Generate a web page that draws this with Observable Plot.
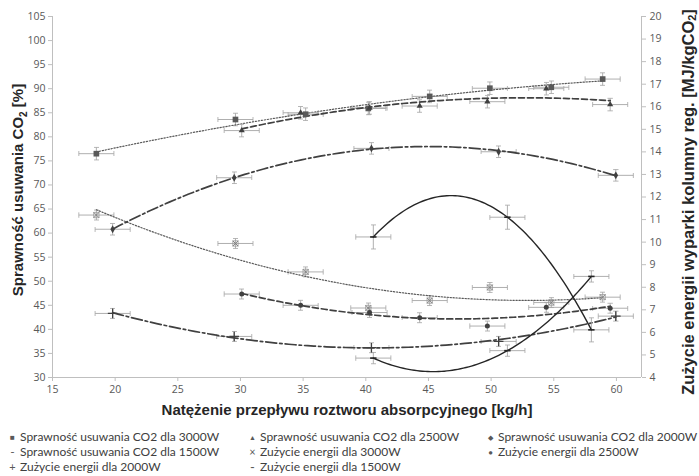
<!DOCTYPE html>
<html>
<head>
<meta charset="utf-8">
<script src="https://cdn.jsdelivr.net/npm/d3@7"></script>
<script src="https://cdn.jsdelivr.net/npm/@observablehq/plot@0.6"></script>
<style>
  body { margin: 0; background: #fff; }
  #chart { position: relative; width: 699px; height: 425px; }
  #chart svg { display: block; }
  #legend { position: relative; width: 699px; height: 51px; font-family: Lato, "Open Sans", sans-serif; font-size: 12px; color: #404040; }
  #legend .item { position: absolute; white-space: nowrap; line-height: 14px; height: 14px; }
  #legend .m { display: inline-block; width: 9px; text-align: center; margin-right: 3px; color: #595959; line-height: 14px; vertical-align: top; }
</style>
</head>
<body>
<div id="chart"></div>
<div id="legend"></div>
<script>
// ---- data (x: flow kg/h, eff: CO2 removal %, energy: MJ/kgCO2) ----
const flow3000 = [18.5, 29.6, 35.2, 40.2, 45.1, 49.9, 54.8, 58.9];
const eff3000 = [76.5, 83.6, 84.7, 85.9, 88.4, 90.1, 90.3, 92.0];
const energy3000 = [11.2, 9.94, 8.68, 7.08, 7.41, 7.99, 7.32, 7.56];

const flow2500 = [30.1, 34.8, 40.3, 44.3, 49.7, 54.4, 59.5];
const eff2500 = [81.3, 85.0, 86.0, 86.4, 87.3, 90.0, 86.7];
const energy2500 = [7.70, 7.20, 6.88, 6.65, 6.28, 7.11, 7.07];

const flow2000 = [19.8, 29.5, 40.45, 50.6, 59.95];
const eff2000 = [60.8, 71.5, 77.6, 76.9, 72.0];
const energy2000 = [6.84, 5.82, 5.32, 5.60, 6.72];

const flow1500 = [40.6, 51.3, 58.0];
const eff1500 = [59.2, 63.3, 39.9];
const energy1500 = [4.86, 5.19, 8.48];

const flowErr = 1.4;      // horizontal error (kg/h)
const effErr = [1.3, 1.3, 1.2, 2.5];        // per series 3000,2500,2000,1500 (%)
const energyErr = [0.22, 0.22, 0.22, 0.25]; // MJ/kgCO2

const xTicks = [15, 20, 25, 30, 35, 40, 45, 50, 55, 60];
const yTicks = [30, 35, 40, 45, 50, 55, 60, 65, 70, 75, 80, 85, 90, 95, 100, 105];
const y2Ticks = [4, 5, 6, 7, 8, 9, 10, 11, 12, 13, 14, 15, 16, 17, 18, 19, 20];

const legendLabels = [
  "Sprawność usuwania CO2 dla 3000W", "Sprawność usuwania CO2 dla 2500W", "Sprawność usuwania CO2 dla 2000W",
  "Sprawność usuwania CO2 dla 1500W", "Zużycie energii dla 3000W", "Zużycie energii dla 2500W",
  "Zużycie energii dla 2000W", "Zużycie energii dla 1500W"
];

// right axis (energy) mapped onto left axis (efficiency) units
const toLeft = e => 30 + (e - 4) * 75 / 16;
const fromLeft = v => 4 + (v - 30) * 16 / 75;

function quadFit(xs, ys) {
  let n = xs.length, s1=0,s2=0,s3=0,s4=0,t0=0,t1=0,t2=0;
  for (let i = 0; i < n; i++) {
    const x = xs[i], y = ys[i];
    s1+=x; s2+=x*x; s3+=x*x*x; s4+=x*x*x*x; t0+=y; t1+=x*y; t2+=x*x*y;
  }
  const M = [[n,s1,s2],[s1,s2,s3],[s2,s3,s4]], B=[t0,t1,t2];
  const det = m => m[0][0]*(m[1][1]*m[2][2]-m[1][2]*m[2][1]) - m[0][1]*(m[1][0]*m[2][2]-m[1][2]*m[2][0]) + m[0][2]*(m[1][0]*m[2][1]-m[1][1]*m[2][0]);
  const D = det(M);
  const c = [0,1,2].map(k => det(M.map((row,i) => row.map((v,j) => j===k ? B[i] : v))) / D);
  return x => c[0] + c[1]*x + c[2]*x*x;
}
function curve(xs, ys) {
  const f = quadFit(xs, ys);
  const x0 = d3.min(xs), x1 = d3.max(xs);
  return d3.range(81).map(i => { const x = x0 + (x1 - x0) * i / 80; return {x, y: f(x)}; });
}

const series = [
  {flow: flow3000, eff: eff3000, energy: energy3000, dash: "1.3,1.7", width: 1.2, color: "#595959"},
  {flow: flow2500, eff: eff2500, energy: energy2500, dash: "6,3", width: 1.7, color: "#404040"},
  {flow: flow2000, eff: eff2000, energy: energy2000, dash: "11,3,2.5,3", width: 1.7, color: "#404040"},
  {flow: flow1500, eff: eff1500, energy: energy1500, dash: null, width: 1.4, color: "#262626"}
];

const dashSymbol = { draw(ctx, size) { const w = Math.sqrt(size) * 0.6; ctx.moveTo(-w, 0); ctx.lineTo(w, 0); } };

const marks = [];
const errColor = "#a6a6a6";
series.forEach((s, k) => {
  const effRows = s.flow.map((x, i) => ({x, y: s.eff[i], ey: effErr[k]}));
  const enRows = s.flow.map((x, i) => ({x, y: toLeft(s.energy[i]), ey: energyErr[k] * 75 / 16}));
  for (const rows of [effRows, enRows]) {
    marks.push(Plot.link(rows, {x1: d => d.x - flowErr, x2: d => d.x + flowErr, y1: "y", y2: "y", stroke: errColor, strokeWidth: 0.9, markerStart: "tick", markerEnd: "tick"}));
    marks.push(Plot.link(rows, {x1: "x", x2: "x", y1: d => d.y - d.ey, y2: d => d.y + d.ey, stroke: errColor, strokeWidth: 0.9, markerStart: "tick", markerEnd: "tick"}));
  }
  const lineOpts = {x: "x", y: "y", stroke: s.color, strokeWidth: s.width, curve: "linear"};
  if (s.dash) lineOpts.strokeDasharray = s.dash;
  marks.push(Plot.line(curve(s.flow, s.eff), lineOpts));
  marks.push(Plot.line(curve(s.flow, s.energy.map(toLeft)), lineOpts));
  s.effRows = effRows; s.enRows = enRows;
});

// markers
marks.push(Plot.dot(series[0].effRows, {x: "x", y: "y", symbol: "square", r: 3.2, fill: "#595959"}));
marks.push(Plot.dot(series[1].effRows, {x: "x", y: "y", symbol: "triangle", r: 2.3, fill: "#404040"}));
marks.push(Plot.dot(series[2].effRows, {x: "x", y: "y", symbol: "diamond", r: 2.4, fill: "#404040"}));
marks.push(Plot.dot(series[3].effRows, {x: "x", y: "y", symbol: dashSymbol, r: 3, stroke: "#262626", strokeWidth: 1.6}));
marks.push(Plot.dot(series[0].enRows, {x: "x", y: "y", symbol: "square", r: 3, stroke: "#9a9a9a", fill: "none", strokeWidth: 0.8}));
marks.push(Plot.dot(series[0].enRows, {x: "x", y: "y", symbol: "times", r: 2.6, stroke: "#808080", strokeWidth: 1}));
marks.push(Plot.dot(series[1].enRows, {x: "x", y: "y", symbol: "circle", r: 2.5, fill: "#404040"}));
marks.push(Plot.dot(series[2].enRows, {x: "x", y: "y", symbol: "plus", r: 3.2, stroke: "#404040", strokeWidth: 1.3}));
marks.push(Plot.dot(series[3].enRows, {x: "x", y: "y", symbol: dashSymbol, r: 3, stroke: "#262626", strokeWidth: 1.6}));

const axisColor = "#bfbfbf";
const labelColor = "#595959";
const svg = Plot.plot({
  width: 699, height: 425,
  marginTop: 16, marginBottom: 48, marginLeft: 52, marginRight: 58,
  style: {fontFamily: "'Open Sans', sans-serif", fontSize: "10.5px", background: "#fff"},
  x: {domain: [15, 62]},
  y: {domain: [30, 105]},
  marks: [
    Plot.axisX({ticks: xTicks, tickSize: 4, tickPadding: 4, stroke: axisColor, fill: labelColor, label: null}),
    Plot.axisY({ticks: yTicks, tickSize: 4, tickPadding: 3, stroke: axisColor, fill: labelColor, label: null, anchor: "left"}),
    Plot.axisY({ticks: y2Ticks.map(toLeft), tickFormat: v => String(Math.round(fromLeft(v))), tickSize: 4, tickPadding: 4, stroke: axisColor, fill: labelColor, label: null, anchor: "right"}),
    Plot.ruleX([15], {stroke: axisColor}),
    Plot.ruleX([62], {stroke: axisColor}),
    Plot.ruleY([30], {stroke: axisColor}),
    ...marks
  ]
});

const s = d3.select(svg);
const titleStyle = (t, size) => t.attr("font-family", "'Liberation Sans', Arial, sans-serif").attr("font-weight", "bold").attr("font-size", size).attr("fill", "#262626").attr("text-anchor", "middle");
titleStyle(s.append("text"), 15).attr("x", 347).attr("y", 415).text("Natężenie przepływu roztworu absorpcyjnego [kg/h]");
const lt = titleStyle(s.append("text"), 15).attr("transform", "translate(23,190) rotate(-90)");
lt.append("tspan").text("Sprawność usuwania CO");
lt.append("tspan").attr("font-size", 10).attr("dy", 4).text("2");
lt.append("tspan").attr("dy", -4).text(" [%]");
const rt = titleStyle(s.append("text"), 16.5).attr("transform", "translate(694,202) rotate(-90)");
rt.append("tspan").text("Zużycie energii wyparki kolumny reg. [MJ/kgCO");
rt.append("tspan").attr("font-size", 11).attr("dy", 2).text("2");
rt.append("tspan").attr("dy", -2).text("]");

document.getElementById("chart").appendChild(svg);

// legend
const legendMarks = ["■", "▲", "◆", "-", "×", "●", "+", "-"];
const markSize = ["8px", "7px", "7px", "12px", "11px", "7px", "11px", "13px"];
const pos = [[8,5],[248,5],[486,5],[8,20],[248,20],[486,20],[8,35],[248,35]];
const lg = document.getElementById("legend");
legendLabels.forEach((t, i) => {
  const d = document.createElement("div");
  d.className = "item";
  d.style.left = pos[i][0] + "px";
  d.style.top = pos[i][1] + "px";
  const m = document.createElement("span");
  m.className = "m";
  m.style.fontSize = markSize[i];
  m.textContent = legendMarks[i];
  d.appendChild(m);
  d.appendChild(document.createTextNode(t));
  lg.appendChild(d);
});
</script>
</body>
</html>
